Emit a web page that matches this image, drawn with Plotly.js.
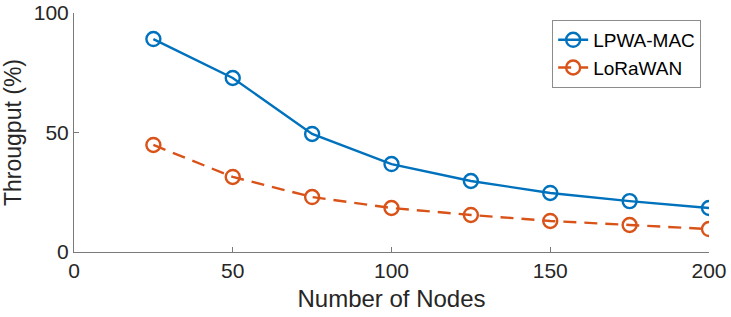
<!DOCTYPE html>
<html><head><meta charset="utf-8">
<script src="https://cdn.plot.ly/plotly-3.0.1.min.js"></script>
<style>html,body{margin:0;padding:0;background:#fff}#chart{width:731px;height:317px}</style>
</head><body><div id="chart"></div>
<script>
const nodes = [25, 50, 75, 100, 125, 150, 175, 200];
const lpwaMac = [89.1, 72.8, 49.4, 36.8, 29.7, 24.7, 21.3, 18.4];
const lorawan = [44.8, 31.4, 23.0, 18.4, 15.5, 13.0, 11.3, 9.6];
const xTicks = [0, 50, 100, 150, 200];
const yTicks = [0, 50, 100];

const font = "'Liberation Sans', Arial, Helvetica, sans-serif";
const traces = [
  {x: nodes, y: lpwaMac, name: 'LPWA-MAC', type: 'scatter', mode: 'lines+markers',
   line: {color: '#0072BD', width: 2.4},
   marker: {symbol: 'circle-open', size: 14, color: '#0072BD', line: {width: 2.4}}},
  {x: nodes, y: lorawan, name: 'LoRaWAN', type: 'scatter', mode: 'lines+markers',
   line: {color: '#D95319', width: 2.4, dash: '13px,8px'},
   marker: {symbol: 'circle-open', size: 14, color: '#D95319', line: {width: 2.4}}}
];
const layout = {
  width: 731, height: 317,
  margin: {l: 74, r: 22, t: 13, b: 65},
  paper_bgcolor: '#fff', plot_bgcolor: '#fff',
  font: {family: font, color: '#262626', size: 21},
  showlegend: true,
  legend: {x: 0.753, y: 0.971, xanchor: 'left', yanchor: 'top',
    bordercolor: '#8c8c8c', borderwidth: 1, bgcolor: '#fff',
    font: {family: font, size: 19, color: '#000'}, tracegroupgap: 0, itemwidth: 30},
  xaxis: {range: [0, 200], tickvals: xTicks, ticktext: xTicks.map(String),
    showgrid: false, zeroline: false, showline: true, linecolor: '#7a7a7a', linewidth: 1,
    ticks: 'inside', ticklen: 5, tickcolor: '#7a7a7a', tickfont: {size: 21},
    title: {text: 'Number of Nodes', font: {size: 24}, standoff: 8}, mirror: false},
  yaxis: {range: [0, 100], tickvals: yTicks, ticktext: yTicks.map(String),
    showgrid: false, zeroline: false, showline: true, linecolor: '#7a7a7a', linewidth: 1,
    ticks: 'inside', ticklen: 5, tickcolor: '#7a7a7a', tickfont: {size: 21},
    title: {text: 'Througput (%)', font: {size: 23}, standoff: 6}}
};
Plotly.newPlot('chart', traces, layout, {displayModeBar: false, staticPlot: true});
</script></body></html>
